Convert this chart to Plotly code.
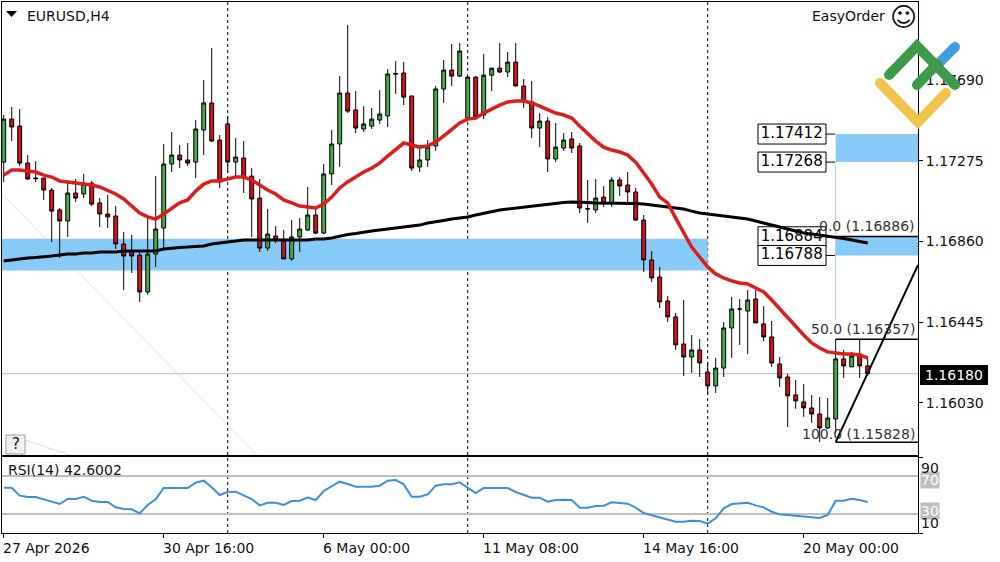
import plotly.graph_objects as go

W, H = 1000, 562

opens = [1.17268,1.17489,1.17453,1.17263,1.17186,1.17186,1.17124,1.17022,1.16965,1.17109,
1.17104,1.17160,1.17058,1.17001,1.16991,1.16847,1.16806,1.16790,1.16600,1.16795,
1.16929,1.17258,1.17304,1.17279,1.17268,1.17433,1.17572,1.17381,1.17464,1.17268,
1.17289,1.17196,1.17083,1.16826,1.16888,1.16862,1.16770,1.16883,1.16919,1.16996,
1.16903,1.17207,1.17361,1.17623,1.17536,1.17438,1.17453,1.17484,1.17505,1.17723,
1.17726,1.17608,1.17243,1.17279,1.17351,1.17644,1.17741,1.17710,1.17494,1.17705,
1.17510,1.17715,1.17751,1.17731,1.17782,1.17659,1.17577,1.17443,1.17479,1.17284,
1.17340,1.17387,1.17351,1.17029,1.17022,1.17088,1.17058,1.17176,1.17150,1.17114,
1.16970,1.16765,1.16677,1.16554,1.16472,1.16333,1.16266,1.16302,1.16189,1.16117,
1.16209,1.16415,1.16513,1.16502,1.16564,1.16436,1.16369,1.16230,1.16163,1.16071,
1.16035,1.16004,1.15973,1.15901,1.15947,1.16256,1.16215,1.16281,1.16220]
highs = [1.17510,1.17551,1.17541,1.17304,1.17273,1.17186,1.17135,1.17032,1.17166,1.17181,
1.17207,1.17171,1.17083,1.17099,1.17042,1.16909,1.16893,1.16816,1.16980,1.17196,
1.17361,1.17423,1.17356,1.17366,1.17484,1.17690,1.17854,1.17407,1.17505,1.17392,
1.17376,1.17237,1.17181,1.17027,1.16939,1.16919,1.16970,1.16980,1.17140,1.17037,
1.17258,1.17433,1.17710,1.17973,1.17633,1.17556,1.17546,1.17638,1.17746,1.17787,
1.17782,1.17608,1.17340,1.17381,1.17659,1.17793,1.17875,1.17880,1.17705,1.17710,
1.17823,1.17751,1.17880,1.17834,1.17880,1.17695,1.17685,1.17520,1.17500,1.17469,
1.17417,1.17423,1.17366,1.17176,1.17181,1.17145,1.17191,1.17191,1.17217,1.17135,
1.16996,1.16811,1.16729,1.16580,1.16492,1.16559,1.16379,1.16358,1.16240,1.16261,
1.16446,1.16575,1.16564,1.16610,1.16610,1.16528,1.16451,1.16266,1.16179,1.16148,
1.16127,1.16071,1.16060,1.16055,1.16358,1.16302,1.16292,1.16358,1.16266]
lows = [1.17166,1.17376,1.17248,1.17176,1.17166,1.17073,1.16857,1.16775,1.16883,1.17063,
1.17083,1.17042,1.16934,1.16929,1.16821,1.16610,1.16698,1.16549,1.16585,1.16729,
1.16816,1.17217,1.17237,1.17248,1.17186,1.17304,1.17371,1.17135,1.17212,1.17191,
1.17109,1.16883,1.16806,1.16811,1.16852,1.16770,1.16760,1.16806,1.16914,1.16898,
1.16898,1.17150,1.17243,1.17520,1.17417,1.17423,1.17438,1.17464,1.17448,1.17618,
1.17561,1.17222,1.17217,1.17243,1.17325,1.17572,1.17659,1.17705,1.17484,1.17494,
1.17489,1.17633,1.17726,1.17705,1.17659,1.17546,1.17392,1.17345,1.17217,1.17268,
1.17325,1.17315,1.17006,1.16955,1.17006,1.17037,1.17037,1.17094,1.17047,1.16965,
1.16703,1.16652,1.16518,1.16446,1.16302,1.16168,1.16184,1.16163,1.16071,1.16081,
1.16163,1.16261,1.16328,1.16281,1.16441,1.16348,1.16215,1.16112,1.15906,1.15999,
1.15958,1.15927,1.15829,1.15896,1.15875,1.16158,1.16215,1.16158,1.16168]
closes = [1.17489,1.17448,1.17263,1.17181,1.17183,1.17124,1.17016,1.16965,1.17109,1.17083,
1.17155,1.17052,1.17001,1.16986,1.16847,1.16785,1.16785,1.16600,1.16795,1.16924,
1.17258,1.17304,1.17279,1.17263,1.17438,1.17572,1.17376,1.17166,1.17268,1.17294,
1.17186,1.17078,1.16826,1.16898,1.16867,1.16770,1.16883,1.16924,1.16996,1.16903,
1.17207,1.17361,1.17623,1.17530,1.17443,1.17464,1.17489,1.17515,1.17721,1.17721,
1.17602,1.17237,1.17279,1.17345,1.17644,1.17741,1.17710,1.17839,1.17705,1.17500,
1.17715,1.17751,1.17731,1.17782,1.17659,1.17577,1.17443,1.17479,1.17284,1.17345,
1.17381,1.17340,1.17032,1.17027,1.17083,1.17058,1.17176,1.17145,1.17114,1.16970,
1.16765,1.16672,1.16549,1.16472,1.16328,1.16266,1.16302,1.16235,1.16117,1.16209,
1.16415,1.16513,1.16513,1.16559,1.16441,1.16369,1.16235,1.16158,1.16066,1.16040,
1.16004,1.15973,1.15901,1.15952,1.16256,1.16220,1.16271,1.16220,1.16180]

ma_fast = [1.17201,1.17227,1.17227,1.17222,1.17217,1.17201,1.17191,1.17171,1.17166,1.17160,
1.17155,1.17150,1.17140,1.17124,1.17104,1.17078,1.17042,1.17006,1.16986,1.16975,
1.17001,1.17032,1.17058,1.17073,1.17119,1.17155,1.17171,1.17171,1.17181,1.17191,
1.17191,1.17176,1.17150,1.17124,1.17104,1.17073,1.17058,1.17042,1.17037,1.17032,
1.17052,1.17088,1.17135,1.17166,1.17191,1.17217,1.17237,1.17263,1.17299,1.17335,
1.17366,1.17356,1.17345,1.17351,1.17371,1.17402,1.17438,1.17469,1.17489,1.17494,
1.17520,1.17541,1.17561,1.17577,1.17582,1.17582,1.17572,1.17556,1.17536,1.17520,
1.17510,1.17494,1.17453,1.17412,1.17376,1.17345,1.17330,1.17320,1.17304,1.17268,
1.17212,1.17155,1.17088,1.17058,1.16980,1.16909,1.16831,1.16780,1.16729,1.16693,
1.16672,1.16657,1.16646,1.16641,1.16621,1.16600,1.16559,1.16513,1.16466,1.16420,
1.16379,1.16338,1.16312,1.16292,1.16287,1.16281,1.16281,1.16276,1.16261]
ma_slow = [1.16759,1.16765,1.16770,1.16775,1.16777,1.16780,1.16785,1.16790,1.16795,1.16795,
1.16801,1.16801,1.16806,1.16806,1.16806,1.16811,1.16811,1.16811,1.16811,1.16811,
1.16821,1.16826,1.16829,1.16831,1.16834,1.16837,1.16847,1.16852,1.16857,1.16862,
1.16867,1.16867,1.16867,1.16867,1.16867,1.16867,1.16867,1.16867,1.16867,1.16872,
1.16872,1.16878,1.16888,1.16896,1.16901,1.16909,1.16914,1.16919,1.16924,1.16929,
1.16934,1.16939,1.16944,1.16955,1.16960,1.16968,1.16975,1.16980,1.16986,1.16996,
1.17006,1.17014,1.17022,1.17027,1.17032,1.17037,1.17042,1.17047,1.17052,1.17058,
1.17060,1.17063,1.17063,1.17060,1.17058,1.17058,1.17058,1.17058,1.17058,1.17055,
1.17052,1.17047,1.17042,1.17037,1.17032,1.17027,1.17016,1.17006,1.17001,1.16996,
1.16991,1.16986,1.16980,1.16975,1.16965,1.16955,1.16944,1.16934,1.16924,1.16914,
1.16903,1.16898,1.16893,1.16888,1.16883,1.16875,1.16867,1.16859,1.16852]
rsi = [57.7,57.7,49.3,47.9,47.9,45.8,43.0,40.5,45.8,45.8,
48.2,44.0,42.6,42.6,37.0,35.3,34.9,30.7,39.5,45.4,
57.4,57.4,57.4,57.4,63.0,65.1,58.1,50.0,53.2,53.5,
49.6,45.8,39.1,41.9,41.9,39.5,43.7,44.0,47.2,44.7,
54.2,58.8,64.0,61.6,58.8,58.8,58.8,59.8,65.1,65.8,
61.2,48.2,48.2,50.7,59.8,61.2,61.2,63.3,58.1,52.1,
57.4,57.4,57.4,57.4,53.2,50.3,47.2,47.2,43.0,44.7,
45.1,44.7,36.7,36.7,38.4,38.8,42.3,41.6,40.9,36.7,
31.0,28.6,26.5,24.4,21.9,21.9,23.0,22.6,19.8,25.4,
36.0,40.5,40.9,41.9,39.1,37.0,32.4,29.6,28.9,28.2,
27.5,26.1,25.8,28.9,44.0,44.0,46.1,44.7,42.6]

price_ticks = [1.17690, 1.17275, 1.16860, 1.16445, 1.16030]
date_bars = [0, 20, 40, 60, 80, 100]
date_labels = ["27 Apr 2026", "30 Apr 16:00", "6 May 00:00", "11 May 08:00", "14 May 16:00", "20 May 00:00"]
period_bars = [28, 58, 88]
fib_levels = [("0.0 (1.16886)", 1.16886), ("50.0 (1.16357)", 1.16357), ("100.0 (1.15828)", 1.15828)]
box_levels = [1.17412, 1.17268, 1.16884, 1.16788]
last_price = 1.16180

bars = list(range(len(closes)))
x_range = [-0.2125, 114.29]
y_range = [1.15762, 1.18091]
FONT = "DejaVu Sans"


def px(x):
    return x / W


def py(y):
    return 1 - y / H


fig = go.Figure()

shapes = [
    dict(type="rect", xref="x", yref="y", x0=x_range[0], x1=88, y0=1.16710, y1=1.16874,
         fillcolor="#88CBF8", line_width=0, layer="below"),
    dict(type="rect", xref="x", yref="y", x0=104, x1=x_range[1], y0=1.17268, y1=1.17412,
         fillcolor="#88CBF8", line_width=0, layer="below"),
    dict(type="rect", xref="x", yref="y", x0=104, x1=x_range[1], y0=1.16788, y1=1.16884,
         fillcolor="#88CBF8", line_width=0, layer="below"),
    dict(type="line", xref="x", yref="y", x0=104, x1=104, y0=1.16456, y1=1.17268,
         line=dict(color="#A9CFE2", width=1), layer="below"),
    dict(type="line", xref="paper", yref="y", x0=px(2), x1=px(918), y0=last_price, y1=last_price,
         line=dict(color="#BDBDBD", width=1), layer="below"),
    # faint old trend lines
    dict(type="line", xref="paper", yref="paper", x0=px(3), y0=py(195), x1=px(257), y1=py(455),
         line=dict(color="#DEDEDE", width=1), layer="below"),
    dict(type="line", xref="paper", yref="paper", x0=px(25), y0=py(440), x1=px(70), y1=py(455),
         line=dict(color="#DEDEDE", width=1), layer="below"),
]
for b in period_bars:
    shapes.append(dict(type="line", xref="x", yref="paper", x0=b, x1=b, y0=py(533), y1=py(2),
                       line=dict(color="black", width=1, dash="3px,3px"), layer="below"))

# white label boxes sit under the averages
for lvl in box_levels:
    yc = (1.18101 - lvl) / 0.0000514
    shapes.append(dict(type="rect", xref="paper", yref="paper", x0=px(758), x1=px(826),
                       y0=py(yc + 10), y1=py(yc - 10), fillcolor="white",
                       line=dict(color="black", width=1), layer="below"))
    shapes.append(dict(type="line", xref="paper", yref="y", x0=px(826), x1=px(835), y0=lvl, y1=lvl,
                       line=dict(color="black", width=1), layer="below"))

for _, lvl in fib_levels:
    shapes.append(dict(type="line", xref="x", yref="y", x0=104, x1=x_range[1], y0=lvl, y1=lvl,
                       line=dict(color="black", width=1.5)))
shapes.append(dict(type="line", xref="x", yref="y", x0=104, y0=1.15828, x1=x_range[1], y1=1.16739,
                   line=dict(color="black", width=2)))

# RSI levels
for lvl in [70, 30]:
    shapes.append(dict(type="line", xref="x2", yref="y2", x0=x_range[0], x1=x_range[1], y0=lvl, y1=lvl,
                       line=dict(color="#BEBEBE", width=2), layer="below"))


def stroke(points, color):
    path = "M " + " L ".join(f"{px(a)},{py(b)}" for a, b in points)
    out = [dict(type="path", xref="paper", yref="paper", path=path,
                line=dict(color=color, width=10))]
    for a, b in (points[0], points[-1]):
        out.append(dict(type="circle", xref="paper", yref="paper",
                        x0=px(a - 5), x1=px(a + 5), y0=py(b + 5), y1=py(b - 5),
                        fillcolor=color, line_width=0))
    return out


# logo
shapes += stroke([(940, 62), (955, 47)], "#3F9FE0")
shapes += stroke([(880, 83), (918, 122), (946, 93)], "#F0C44C")
shapes += stroke([(889, 75), (917, 46), (955, 85)], "#3E9A4B")
shapes += stroke([(917, 85), (937, 64)], "#3E9A4B")
# ? button
shapes.append(dict(type="rect", xref="paper", yref="paper", x0=px(6), x1=px(25), y0=py(454), y1=py(435),
                   fillcolor="#F0F0F0", line=dict(color="#A0A0A0", width=1)))
# menu triangle
shapes.append(dict(type="path", xref="paper", yref="paper",
                   path=f"M {px(6)},{py(11)} L {px(17)},{py(11)} L {px(11.5)},{py(17)} Z",
                   fillcolor="black", line_width=0))
# last price box
shapes.append(dict(type="rect", xref="paper", yref="paper", x0=px(920), x1=px(988), y0=py(385), y1=py(365),
                   fillcolor="black", line_width=0))

fig.add_trace(go.Candlestick(
    x=bars, open=opens, high=highs, low=lows, close=closes,
    whiskerwidth=0,
    increasing=dict(fillcolor="#46A846", line=dict(color="black", width=1)),
    decreasing=dict(fillcolor="#C8141E", line=dict(color="black", width=1)),
    showlegend=False,
))

# level values in the boxes
fig.add_trace(go.Scatter(
    x=[98.5] * len(box_levels), y=box_levels, mode="text",
    text=[f"{v:.5f}" for v in box_levels], textposition="middle center",
    textfont=dict(family=FONT, size=15, color="black"), showlegend=False,
))
fig.add_trace(go.Scatter(x=bars, y=ma_slow, mode="lines", line=dict(color="black", width=3), showlegend=False))
fig.add_trace(go.Scatter(x=bars, y=ma_fast, mode="lines", line=dict(color="#DD1C1C", width=3.5), showlegend=False))
fig.add_trace(go.Scatter(x=bars, y=rsi, mode="lines", line=dict(color="#3A8FD8", width=2),
                         xaxis="x2", yaxis="y2", showlegend=False))

notes = []


def note(text, x, y, anchor="left", size=14, color="#111111", **kw):
    notes.append(dict(text=text, x=px(x), y=py(y), xref="paper", yref="paper", showarrow=False,
                      xanchor=anchor, yanchor="middle", font=dict(family=FONT, size=size, color=color),
                      borderpad=0, **kw))


note("EURUSD,H4", 26, 16)
note("EasyOrder", 886, 16, anchor="right")
note("☺", 903, 17, anchor="center", size=26)
note("?", 15.5, 444, anchor="center", size=15)
note("RSI(14) 42.6002", 7, 470)
for name, lvl in fib_levels:
    yc = (1.18101 - lvl) / 0.0000514
    note(name, 916, yc - 10 if lvl != 1.15828 else yc - 8, anchor="right", color="#333333")
note(f"{last_price:.5f}", 954, 375, anchor="center", color="white")
note("70", 930, 480, anchor="center", color="white", bgcolor="#BEBEBE")
note("30", 930, 511, anchor="center", color="white", bgcolor="#BEBEBE")
note("90", 930, 468, anchor="center")
note("10", 930, 523, anchor="center")
for b, label in zip(date_bars, date_labels):
    notes.append(dict(text=label, x=b, xref="x2", y=py(548), yref="paper", showarrow=False,
                      xanchor="left", yanchor="middle", xshift=-3,
                      font=dict(family=FONT, size=14, color="#111111")))

fig.update_layout(
    width=W, height=H,
    margin=dict(l=0, r=0, t=0, b=0),
    paper_bgcolor="white", plot_bgcolor="white",
    shapes=shapes, annotations=notes, showlegend=False,
    xaxis=dict(domain=[px(2), px(918)], range=x_range, anchor="y", rangeslider_visible=False,
               showgrid=False, showticklabels=False, ticks="", showline=True, linecolor="black",
               linewidth=1, mirror=True, zeroline=False),
    yaxis=dict(domain=[py(455), py(2)], range=y_range, anchor="x", side="right", showgrid=False,
               tickvals=price_ticks, ticktext=[f"{v:.5f}" for v in price_ticks], ticks="outside",
               ticklen=4, tickcolor="black", showline=True, linecolor="black", linewidth=1, mirror=True,
               tickfont=dict(family=FONT, size=14, color="#111111"), zeroline=False),
    xaxis2=dict(domain=[px(2), px(918)], range=x_range, anchor="y2", showgrid=False,
                tickvals=date_bars, ticktext=[""] * len(date_bars), ticks="outside", ticklen=4,
                tickcolor="black", showline=True, linecolor="black", linewidth=1, mirror=True,
                zeroline=False),
    yaxis2=dict(domain=[py(533), py(457)], range=[10, 90], anchor="x2", side="right", showgrid=False,
                tickvals=[10, 90], ticktext=["", ""], ticks="outside", ticklen=4, tickcolor="black",
                showline=True, linecolor="black", linewidth=1, mirror=True, zeroline=False),
)

# the page's default body margin would push the plot off its 1000x562 window
fig.write_html("out.html", config=dict(displayModeBar=False),
               post_script="document.body.style.margin='0';")
